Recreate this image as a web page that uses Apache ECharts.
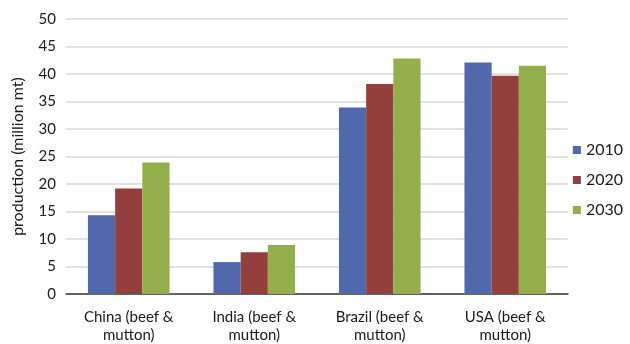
<!DOCTYPE html>
<html>
<head>
<meta charset="utf-8">
<script src="https://cdn.jsdelivr.net/npm/echarts@6/dist/echarts.min.js"></script>
<style>
  html, body { margin: 0; padding: 0; background: #fff; }
  #chart { width: 630px; height: 344px; }
</style>
</head>
<body>
<div id="chart"></div>
<script>
// Beef & mutton production by country, million metric tonnes
const categories = ['China (beef &\nmutton)', 'India (beef &\nmutton)', 'Brazil (beef &\nmutton)', 'USA (beef &\nmutton)'];
const years = ['2010', '2020', '2030'];
const values2010 = [14.3, 5.8, 33.9, 42.1];
const values2020 = [19.2, 7.6, 38.2, 39.7];
const values2030 = [23.9, 8.9, 42.8, 41.5];
const yTicks = { min: 0, max: 50, interval: 5 };

const colors = ['#5168AD', '#923F3E', '#92AF4A'];
const font = 'Lato, "Open Sans", sans-serif';

const chart = echarts.init(document.getElementById('chart'));
chart.setOption({
  animation: false,
  textStyle: { fontFamily: font },
  grid: { left: 66, right: 62, top: 19, bottom: 49 },
  legend: {
    orient: 'vertical',
    right: 2,
    top: 137,
    data: years,
    icon: 'rect',
    itemWidth: 8,
    itemHeight: 8,
    itemGap: 14,
    textStyle: { fontSize: 16, color: '#1a1a1a', fontFamily: font }
  },
  xAxis: {
    type: 'category',
    data: categories,
    axisTick: { show: false },
    axisLine: { lineStyle: { color: '#3a3a3a', width: 1.5 } },
    axisLabel: { fontSize: 15, color: '#1a1a1a', lineHeight: 18, margin: 14, interval: 0 }
  },
  yAxis: {
    type: 'value',
    min: yTicks.min,
    max: yTicks.max,
    interval: yTicks.interval,
    name: 'production (million mt)',
    nameLocation: 'middle',
    nameGap: 40,
    nameTextStyle: { fontSize: 16, color: '#1a1a1a' },
    axisLabel: { fontSize: 15, color: '#1a1a1a', margin: 10 },
    splitLine: { lineStyle: { color: '#d9d9d9', width: 1.5 } },
    axisLine: { show: false },
    axisTick: { show: false }
  },
  series: [values2010, values2020, values2030].map((vals, i) => ({
    name: years[i],
    type: 'bar',
    data: vals,
    barGap: '0%',
    barCategoryGap: '35%',
    itemStyle: { color: colors[i] }
  }))
});
</script>
</body>
</html>
